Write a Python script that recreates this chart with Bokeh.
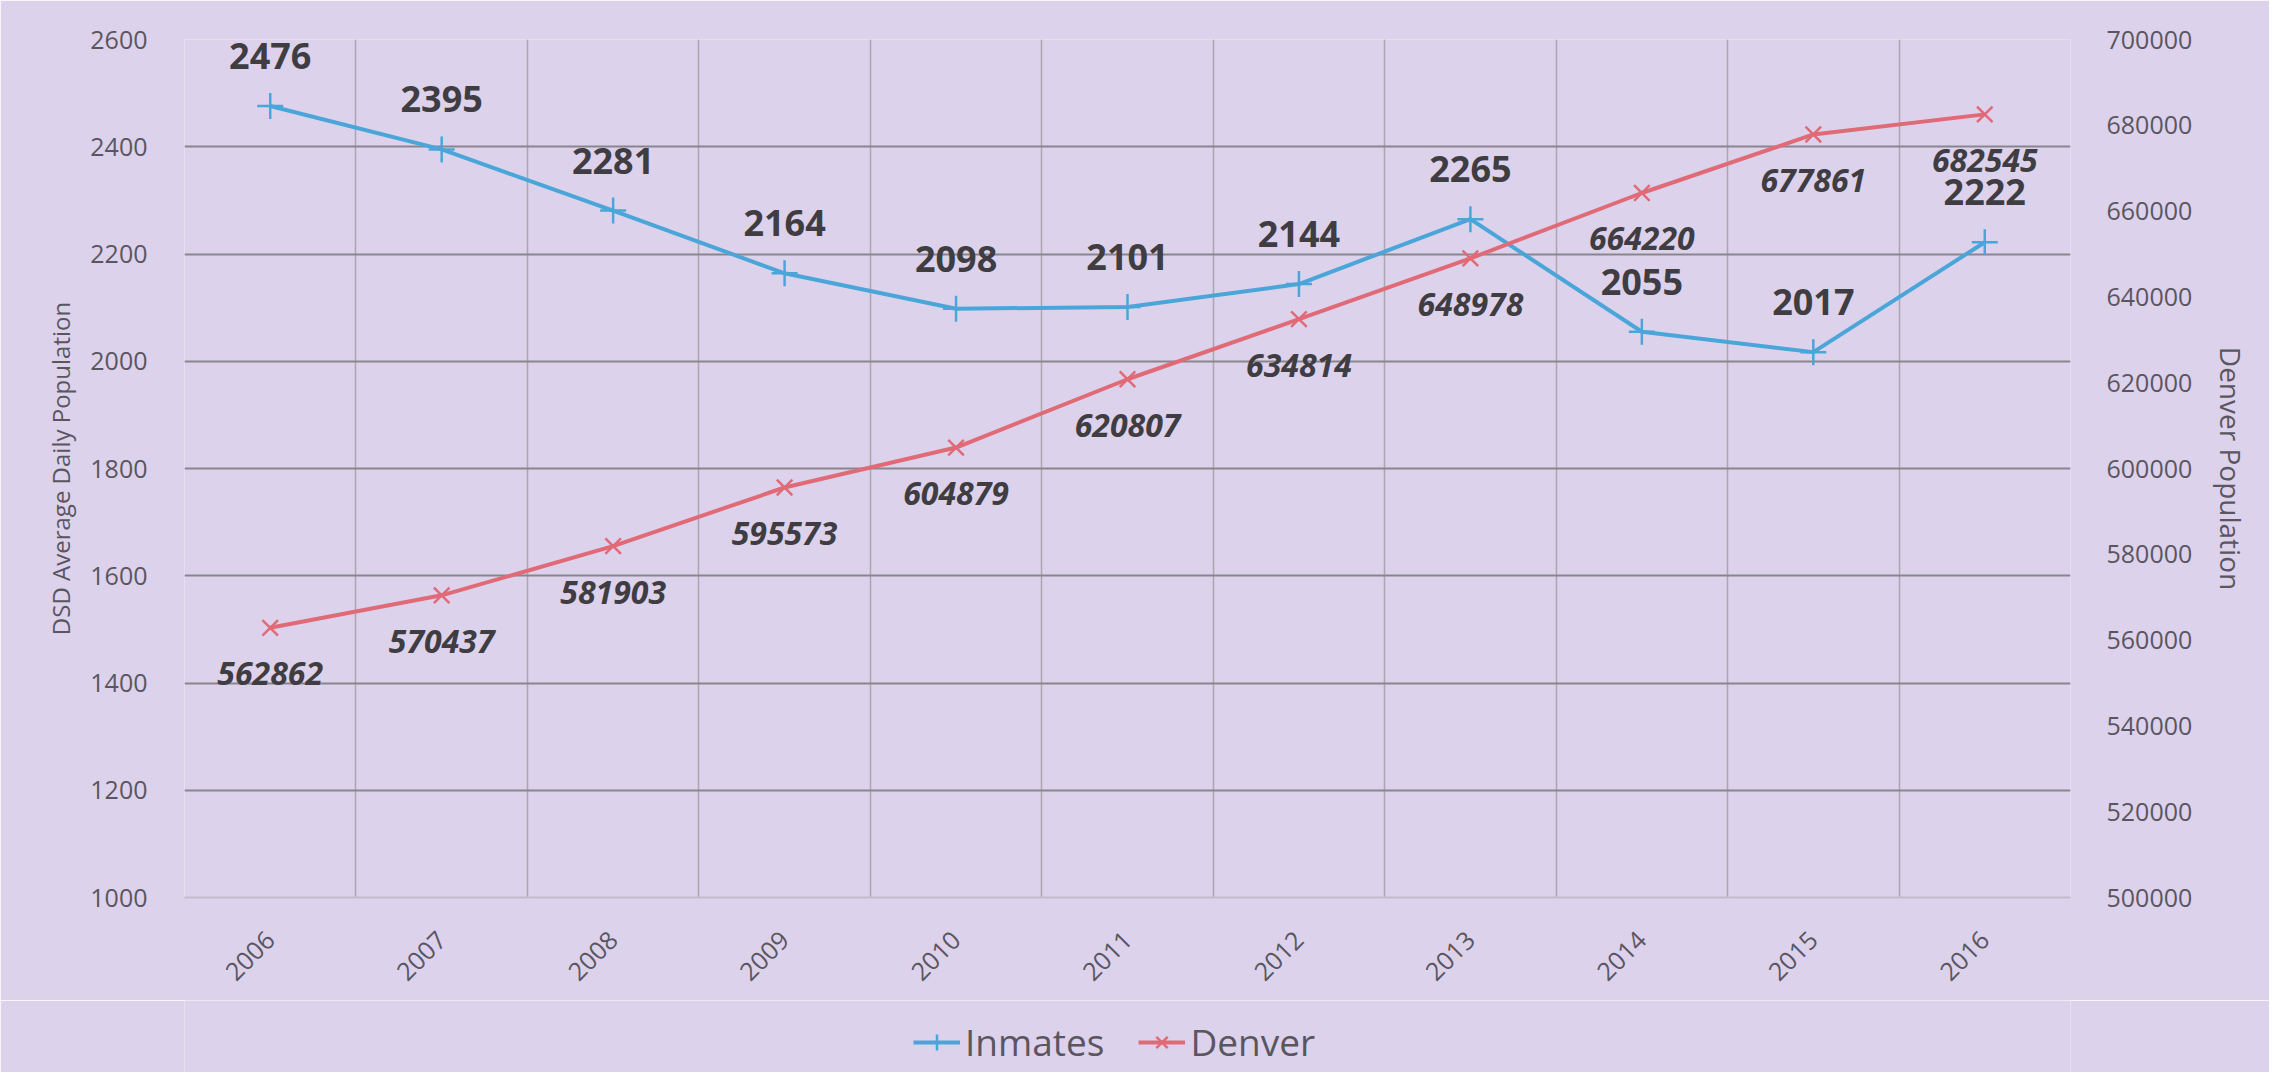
import math
from bokeh.plotting import figure
from bokeh.layouts import column
from bokeh.models import (Range1d, LinearAxis, FixedTicker, ColumnDataSource, LabelSet,
                          Legend, LegendItem, NumeralTickFormatter)
from bokeh.core.properties import value
from bokeh.embed import file_html
from bokeh.resources import INLINE

years = ["2006", "2007", "2008", "2009", "2010", "2011", "2012", "2013", "2014", "2015", "2016"]
inmates = [2476, 2395, 2281, 2164, 2098, 2101, 2144, 2265, 2055, 2017, 2222]
denver = [562862, 570437, 581903, 595573, 604879, 620807, 634814, 648978, 664220, 677861, 682545]
left_ticks = [1000, 1200, 1400, 1600, 1800, 2000, 2200, 2400, 2600]
right_ticks = [500000, 520000, 540000, 560000, 580000, 600000, 620000, 640000, 660000, 680000, 700000]
series_names = ["Inmates", "Denver"]

FONT = "Open Sans"
TICK_COLOR = "#5a5660"
LABEL_COLOR = "#3f3d42"
BLUE = "#4aa6d8"
RED = "#e06a76"
BG = "#ddd2ec"

xs = list(range(len(years)))
src = ColumnDataSource(dict(
    x=xs, inm=inmates, den=denver,
    inm_lbl=[str(v) for v in inmates],
    den_lbl=[str(v) for v in denver],
))

p = figure(width=2269, height=1000,
           x_range=Range1d(-0.5, len(years) - 0.5),
           y_range=Range1d(left_ticks[0], left_ticks[-1]),
           output_backend="svg", toolbar_location=None,
           min_border_left=184, min_border_right=199,
           min_border_top=39, min_border_bottom=103)
p.extra_y_ranges = {"den": Range1d(right_ticks[0], right_ticks[-1])}

p.background_fill_color = BG
p.border_fill_color = BG
p.outline_line_color = None

# x axis
p.xaxis.ticker = FixedTicker(ticks=xs)
p.xaxis.major_label_overrides = {i: y for i, y in enumerate(years)}
p.xaxis.major_label_orientation = math.pi / 4
p.xaxis.major_label_text_font = FONT
p.xaxis.major_label_text_font_size = "25px"
p.xaxis.major_label_text_color = TICK_COLOR
p.xaxis.major_label_standoff = 32
p.xaxis.major_tick_line_color = None
p.xaxis.minor_tick_line_color = None
p.xaxis.axis_line_color = "#c3bccb"
p.xaxis.axis_line_width = 2

# left y axis
p.yaxis.ticker = FixedTicker(ticks=left_ticks)
p.yaxis.axis_label = "DSD Average Daily Population"
p.yaxis.axis_label_text_font = FONT
p.yaxis.axis_label_text_font_style = "normal"
p.yaxis.axis_label_text_font_size = "24px"
p.yaxis.axis_label_text_color = TICK_COLOR
p.yaxis.axis_label_standoff = 10
p.yaxis.major_label_text_font = FONT
p.yaxis.major_label_text_font_size = "25px"
p.yaxis.major_label_text_color = TICK_COLOR
p.yaxis.major_label_standoff = 31
p.yaxis.major_tick_line_color = None
p.yaxis.minor_tick_line_color = None
p.yaxis.axis_line_color = None

# right y axis
ax2 = LinearAxis(y_range_name="den", ticker=FixedTicker(ticks=right_ticks),
                 formatter=NumeralTickFormatter(format="0"),
                 axis_label="Denver Population")
ax2.axis_label_text_font = FONT
ax2.axis_label_text_font_style = "normal"
ax2.axis_label_text_font_size = "28px"
ax2.axis_label_text_color = TICK_COLOR
ax2.axis_label_standoff = 17
ax2.major_label_text_font = FONT
ax2.major_label_text_font_size = "25px"
ax2.major_label_text_color = TICK_COLOR
ax2.major_label_standoff = 30
ax2.major_tick_line_color = None
ax2.minor_tick_line_color = None
ax2.axis_line_color = None
p.add_layout(ax2, "right")

# grids
p.ygrid.ticker = FixedTicker(ticks=left_ticks)
p.ygrid.grid_line_color = "#88858e"
p.ygrid.grid_line_width = 2
p.xgrid.ticker = FixedTicker(ticks=[i - 0.5 for i in range(len(years) + 1)])
p.xgrid.grid_line_color = "#aaa6b0"
p.xgrid.grid_line_width = 1.5

# series
p.line("x", "inm", source=src, line_color=BLUE, line_width=4)
p.scatter("x", "inm", source=src, marker="cross", size=26, line_color=BLUE, line_width=2.5)
p.line("x", "den", source=src, y_range_name="den", line_color=RED, line_width=4)
p.scatter("x", "den", source=src, y_range_name="den", marker="x", size=22,
          line_color=RED, line_width=2.5)

lab1 = LabelSet(x="x", y="inm", text="inm_lbl", source=src, y_offset=50,
                text_align="center", text_baseline="middle",
                text_font=value(FONT), text_font_size=value("36px"),
                text_font_style=value("bold"), text_color=value(LABEL_COLOR))
lab2 = LabelSet(x="x", y="den", text="den_lbl", source=src, y_range_name="den", y_offset=-46,
                text_align="center", text_baseline="middle",
                text_font=value(FONT), text_font_size=value("32px"),
                text_font_style=value("bold italic"), text_color=value(LABEL_COLOR))
p.add_layout(lab1)
p.add_layout(lab2)

# legend strip below the chart: a legend-only figure whose swatch renderers
# use the same data but lie outside its (0..1) view, so only the legend shows
lg = figure(width=2269, height=72, output_backend="svg", toolbar_location=None,
            x_axis_type=None, y_axis_type=None, min_border=0,
            x_range=Range1d(0, 1), y_range=Range1d(0, 1))
lg.background_fill_color = BG
lg.border_fill_color = BG
lg.outline_line_color = None
lg.xgrid.visible = False
lg.ygrid.visible = False
r1 = lg.line("x", "inm", source=src, line_color=BLUE, line_width=4)
r1m = lg.scatter("x", "inm", source=src, marker="cross", size=26, line_color=BLUE, line_width=2.5)
r2 = lg.line("x", "den", source=src, line_color=RED, line_width=4)
r2m = lg.scatter("x", "den", source=src, marker="x", size=22, line_color=RED, line_width=2.5)

legend = Legend(items=[LegendItem(label=series_names[0], renderers=[r1, r1m]),
                       LegendItem(label=series_names[1], renderers=[r2, r2m])],
                orientation="horizontal", location=(729, 5),
                padding=0, margin=0, spacing=34,
                glyph_width=47, glyph_height=40, label_height=40,
                label_standoff=5,
                label_text_font=FONT, label_text_font_size="37px",
                label_text_color=TICK_COLOR,
                background_fill_alpha=0, border_line_color=None)
lg.add_layout(legend)

layout = column(p, lg, spacing=0)
open("out.html", "w").write(file_html(layout, INLINE))
